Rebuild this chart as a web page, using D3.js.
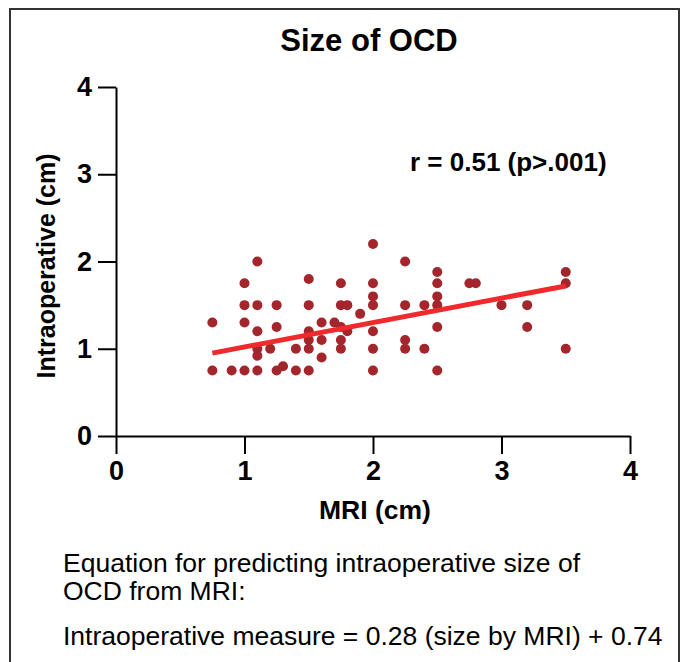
<html>
    <style>
        body {
            margin: 0;
            background: white;
        }

        svg {
            font-family: 'Liberation Sans', Arial, sans-serif;
        }

        .axis .domain, .axis .tick line {
            stroke: black;
            stroke-width: 2;
        }

        .axis .tick text {
            font-size: 27px;
            font-weight: bold;
            fill: black;
        }
    </style>

    <body>
        <svg width="684" height="662"></svg>

        <script src="https://d3js.org/d3.v7.min.js"></script>

        <script>

            // MRI size vs intraoperative size (cm)
            let mri = [0.75, 0.75, 0.9, 1.0, 1.0, 1.0, 1.0, 1.1, 1.1, 1.1, 1.1, 1.1, 1.1, 1.2, 1.25, 1.25, 1.25, 1.3,
                1.4, 1.4, 1.5, 1.5, 1.5, 1.5, 1.5, 1.5, 1.6, 1.6, 1.6, 1.7, 1.75, 1.75, 1.75, 1.75, 1.75, 1.8, 1.8, 1.9,
                2.0, 2.0, 2.0, 2.0, 2.0, 2.0, 2.0, 2.25, 2.25, 2.25, 2.25, 2.4, 2.4, 2.5, 2.5, 2.5, 2.5, 2.5, 2.5,
                2.75, 2.8, 3.0, 3.2, 3.2, 3.5, 3.5, 3.5]
            let intra = [1.3, 0.75, 0.75, 0.75, 1.3, 1.5, 1.75, 2.0, 1.5, 1.2, 1.0, 0.92, 0.75, 1.0, 1.5, 1.25, 0.75, 0.8,
                1.0, 0.75, 1.8, 1.5, 1.2, 1.1, 1.0, 0.75, 1.3, 1.1, 0.9, 1.3, 1.75, 1.5, 1.25, 1.1, 1.0, 1.5, 1.2, 1.4,
                2.2, 1.75, 1.6, 1.5, 1.2, 1.0, 0.75, 2.0, 1.5, 1.1, 1.0, 1.5, 1.0, 1.88, 1.75, 1.6, 1.5, 1.25, 0.75,
                1.75, 1.75, 1.5, 1.5, 1.25, 1.88, 1.75, 1.0]

            let xTicks = [0, 1, 2, 3, 4]
            let yTicks = [0, 1, 2, 3, 4]

            // fit line: intra = 0.28 * mri + 0.74
            let slope = 0.28
            let intercept = 0.74
            let fitRange = [0.75, 3.5]

            let noteLines = [
                "Equation for predicting intraoperative size of",
                "OCD from MRI:",
                "Intraoperative measure = 0.28 (size by MRI) + 0.74"
            ]

            let data = mri.map((m, i) => ({x: m, y: intra[i]}))

            let svg = d3.select("svg")

            // frame around the figure
            svg.append("rect")
                .attr("x", 10)
                .attr("y", 9)
                .attr("width", 669)
                .attr("height", 700)
                .style("fill", "none")
                .style("stroke", "#333")
                .style("stroke-width", 2)

            let x = d3.scaleLinear()
                .domain([0, 4])
                .range([116, 630])

            let y = d3.scaleLinear()
                .domain([0, 4])
                .range([436, 87])

            svg.append("g")
                .attr("class", "x axis")
                .attr("transform", `translate(0, ${y(0)})`)
                .call(d3.axisBottom(x).tickValues(xTicks).tickSize(18).tickSizeOuter(0).tickPadding(7).tickFormat(d3.format("d")))

            svg.append("g")
                .attr("class", "y axis")
                .attr("transform", `translate(${x(0)}, 0)`)
                .call(d3.axisLeft(y).tickValues(yTicks).tickSize(18).tickSizeOuter(0).tickPadding(6).tickFormat(d3.format("d")))

            svg.append("g")
                .selectAll("circle")
                .data(data)
                .join("circle")
                .attr("cx", d => x(d.x))
                .attr("cy", d => y(d.y))
                .attr("r", 5)
                .style("fill", "#a3262d")

            svg.append("line")
                .attr("x1", x(fitRange[0]))
                .attr("y1", y(slope * fitRange[0] + intercept))
                .attr("x2", x(fitRange[1]))
                .attr("y2", y(slope * fitRange[1] + intercept))
                .style("stroke", "#ee2a2c")
                .style("stroke-width", 5)

            svg.append("text")
                .attr("x", 369)
                .attr("y", 51)
                .attr("text-anchor", "middle")
                .style("font-size", "31px")
                .style("font-weight", "bold")
                .text("Size of OCD")

            svg.append("text")
                .attr("x", 410)
                .attr("y", 171)
                .style("font-size", "26px")
                .style("font-weight", "bold")
                .text("r = 0.51 (p>.001)")

            svg.append("text")
                .attr("x", 375)
                .attr("y", 519)
                .attr("text-anchor", "middle")
                .style("font-size", "26.5px")
                .style("font-weight", "bold")
                .text("MRI (cm)")

            svg.append("text")
                .attr("transform", "translate(55, 266) rotate(-90)")
                .attr("text-anchor", "middle")
                .style("font-size", "25px")
                .style("font-weight", "bold")
                .text("Intraoperative (cm)")

            svg.selectAll(".note")
                .data(noteLines)
                .join("text")
                .attr("class", "note")
                .attr("x", 63)
                .attr("y", (d, i) => [572, 600, 645][i])
                .style("font-size", "26.5px")
                .text(d => d)

        </script>
    </body>
</html>
